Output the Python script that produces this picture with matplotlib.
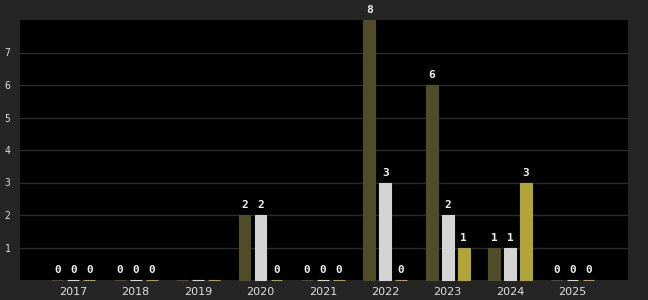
import matplotlib
matplotlib.use("Agg")
import matplotlib.pyplot as plt
import numpy as np

years = ["2017", "2018", "2019", "2020", "2021", "2022", "2023", "2024", "2025"]
series_a = [0, 0, 0, 2, 0, 8, 6, 1, 0]
series_b = [0, 0, 0, 2, 0, 3, 2, 1, 0]
series_c = [0, 0, 0, 0, 0, 0, 1, 3, 0]
show_labels = [True, True, False, True, True, True, True, True, True]
y_ticks = [1, 2, 3, 4, 5, 6, 7]

colors = ["#504c28", "#d4d4d4", "#b1a53a"]

fig = plt.figure(figsize=(6.48, 3.0), dpi=100)
fig.patch.set_facecolor("#252525")
ax = fig.add_axes([20 / 648, 20 / 300, 608 / 648, 260 / 300])
ax.set_facecolor("#000000")

x = np.arange(len(years))
width = 0.19
offset = 0.256
for i, (vals, c) in enumerate(zip([series_a, series_b, series_c], colors)):
    pos = x + (i - 1) * offset
    bars = ax.bar(pos, vals, width=width, color=c, edgecolor=c, linewidth=0.8,
                  zorder=3)
    for b in bars:
        b.set_clip_on(False)
    for p, v, s in zip(pos, vals, show_labels):
        if s:
            ax.annotate(str(v), (p, v), xytext=(0, 3.5), textcoords="offset points",
                        ha="center", va="bottom", color="#f0f0f0",
                        fontsize=8, fontweight="bold", family="DejaVu Sans Mono",
                        annotation_clip=False, zorder=4)

ax.set_xlim(-0.854, 8.89)
ax.set_ylim(0, 8)
ax.set_yticks(y_ticks)
ax.set_yticklabels([str(t) for t in y_ticks], color="#e0e0e0", fontsize=7,
                   family="DejaVu Sans Mono")
ax.set_xticks(x)
ax.set_xticklabels(years, color="#e0e0e0", fontsize=8)
ax.tick_params(axis="both", length=0)
ax.tick_params(axis="y", pad=7)
ax.tick_params(axis="x", pad=5)
ax.grid(axis="y", color="#2c2c2c", linewidth=1, zorder=0)
for s in ax.spines.values():
    s.set_visible(False)

fig.savefig("out.png", dpi=100, facecolor=fig.get_facecolor())
